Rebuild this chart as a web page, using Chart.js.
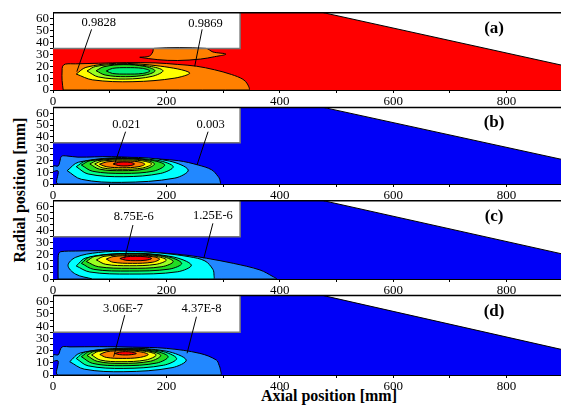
<!DOCTYPE html>
<html>
<head>
<meta charset="utf-8">
<script src="https://cdn.jsdelivr.net/npm/chart.js@4.4.1/dist/chart.umd.min.js"></script>
<style>
  body { margin: 0; background: #fff; }
  #wrap { position: relative; width: 561px; height: 405px; overflow: hidden; font-family: 'Liberation Serif', 'Times New Roman', serif; }
  #wrap canvas { position: absolute; left: 0; top: 0; }
  .axtitle { position: absolute; width: 200px; text-align: center; line-height: 20px; font-weight: bold; font-size: 16px; color: #000; }
</style>
</head>
<body>
<div id="wrap">
  <div class="axtitle" style="left:-80px; top:180px; transform: rotate(-90deg);">Radial position [mm]</div>
  <div class="axtitle" style="left:229px; top:386px;">Axial position [mm]</div>
</div>
<script>
// axes
const xTicks = [0, 100, 200, 300, 400, 500, 600, 700, 800];
const yTicks = [0, 5, 10, 15, 20, 25, 30, 35, 40, 45, 50, 55, 60];

// geometrie (mm)
const domain = [[0,0],[900,0],[900,20.6],[477,65],[330,65],[330,35],[0,35],[0,0]];
const rectEdge = [[0,35],[330,35],[330,65]];
const slopeEdge = [[477,65],[900,20.6]];
const topEdge = [[0,65],[900,65]];

// (a) contours
const aOrange = [[18,0],[16,8],[16,16],[17,20],[22,21.8],[40,22],[80,22.5],[130,23],[180,22.8],[220,21.5],[253,20],[285,17],[315,13],[335,9],[343,5],[345,0],[18,0]];
const aBlob = [[153,27.5],[170,28.5],[176,32],[178,35],[270,35],[282,32],[305,30.2],[285,28],[260,26],[220,24.8],[185,25.5],[153,27.5]];
const aYellow = [[41,13.4],[58,19],[112,22.4],[190,20],[241,14.5],[215,10],[141,7],[70,8.5],[41,13.4]];
const aLime = [[60,16],[75,19.8],[120,21.6],[170,20],[194,16.2],[175,11.5],[128,9.2],[80,11],[60,16]];
const aGreen = [[76,16.2],[90,19.6],[125,21.3],[162,19.8],[180,16.2],[165,12.8],[128,11.2],[92,12.6],[76,16.2]];
const aMint = [[94,16],[105,18.2],[130,18.8],[158,18.2],[171,16],[158,13.9],[130,13.4],[105,13.9],[94,16]];
const aLabels = ['0.9828', '0.9869'];
const aLabelAt = [[80.6,56.3],[269,55.5]];
const aPtr1 = [[68,51],[42,15.4]];
const aPtr2 = [[263,51],[250,20]];

// (b) contours
const bLightBlue = [[0,10.5],[9,11],[9,0],[294,0],[294,4],[291,6.5],[280,12],[256,16.1],[221,19.8],[162,21.8],[103,23.2],[44,22.8],[24,23.8],[15,23.5],[12,19],[9,15.3],[0,15.3],[0,10.5]];
const bCyan = [[25,11.3],[45,18.5],[132,22.6],[205,19.5],[238.5,11.9],[215,5],[121,1.4],[50,4],[25,11.3]];
const bMint = [[41,14.7],[58,19.5],[125,21.8],[185,20],[212,14.7],[190,9],[125,6.2],[62,8.5],[41,14.7]];
const bGreen = [[50,16.1],[66,19.8],[125,21.5],[175,20],[197,16.1],[178,11],[125,9],[70,10.8],[50,16.1]];
const bLime = [[65,17],[78,19.8],[123,21.2],[162,20.2],[179,17],[163,12.8],[123,11.3],[82,12.6],[65,17]];
const bYellow = [[73.6,17],[86,19.4],[123,20.4],[158,19.6],[174,17],[158,13.6],[123,12.5],[88,13.6],[73.6,17]];
const bOrange = [[82,16.8],[95,18.8],[123,19.5],[150,18.9],[162,16.8],[150,14.6],[123,13.8],[95,14.6],[82,16.8]];
const bRed = [[106,17],[115,18.3],[125,18.7],[137,18.3],[144,17],[137,15.7],[125,15.3],[115,15.7],[106,17]];
const bLabels = ['0.021', '0.003'];
const bLabelAt = [[129.5,50.7],[278,50.7]];
const bPtr1 = [[128,44.4],[109,17.5]];
const bPtr2 = [[273.5,44.4],[254,16.1]];

// (c) contours
const cLightBlue = [[9,0],[9,15],[10,21],[14,22.7],[40,23.2],[83,23.5],[140,22.8],[200,21.3],[240,19.5],[271,17.2],[318,13],[365,7.5],[388,2],[394,0],[9,0]];
const cCyan = [[70,0],[40,4],[26.5,11.3],[40,18],[80,22],[130,23],[190,21.5],[240,18.5],[268,15],[282,8],[284,3],[283,0],[70,0]];
const cMint = [[41,10.8],[58,17.5],[135,21.3],[210,18.5],[244,11.6],[220,6],[135,4.1],[65,5.8],[41,10.8]];
const cGreen = [[50,13],[66,18.5],[135,21],[200,18.8],[227,13],[205,8.2],[135,6.6],[72,8],[50,13]];
const cLime = [[59,14.5],[74,18.8],[135,20.8],[190,19],[212,14.5],[192,10.2],[135,8.9],[80,10.2],[59,14.5]];
const cYellow = [[76.5,15.8],[90,18.8],[135,20],[180,18.9],[200,15.8],[182,12.2],[135,11],[93,12.2],[76.5,15.8]];
const cOrange = [[94,16.5],[106,18.6],[140,19.4],[175,18.6],[188,16.5],[175,13.9],[140,13],[106,13.9],[94,16.5]];
const cRed = [[118,17],[128,18.4],[146,18.8],[164,18.4],[174,17],[164,15.6],[146,15.2],[128,15.6],[118,17]];
const cLabels = ['8.75E-6', '1.25E-6'];
const cLabelAt = [[142.4,51.7],[282,52.3]];
const cPtr1 = [[141,44.8],[126.5,17.2]];
const cPtr2 = [[282,46.2],[266,17.2]];

// (d) contours
const dLightBlue = [[0,11.2],[9,11.5],[9,0],[295,0],[295,5],[293,8],[288,12.3],[259,17.7],[200,21.8],[140,22.8],[82,23.2],[30,23],[18,23.3],[14,22],[11,18],[9,16.4],[0,16.4],[0,11.2]];
const dCyan = [[29.5,10.9],[48,18],[125,21.8],[200,19.5],[235,12.3],[210,6],[125,2.7],[55,4.8],[29.5,10.9]];
const dMint = [[41,13.5],[57,18.8],[125,21.5],[190,19.6],[218,13.5],[195,8],[125,5.4],[62,7.5],[41,13.5]];
const dGreen = [[50,15],[65,19.3],[122,21],[180,19.5],[203,15],[183,9.8],[122,7.6],[70,9.5],[50,15]];
const dLime = [[60,16],[73,19.3],[120,20.8],[170,19.5],[190,16],[172,11.3],[120,9.5],[78,11.2],[60,16]];
const dYellow = [[68,16.4],[80,19.3],[120,20.5],[162,19.4],[182,16.4],[164,12.3],[120,10.9],[84,12.2],[68,16.4]];
const dOrange = [[82.6,16.8],[94,19],[122,19.9],[152,19.1],[168,16.8],[152,14.3],[122,13.6],[94,14.4],[82.6,16.8]];
const dRed = [[109,17.6],[117,18.7],[128,19.1],[139,18.7],[147,17.6],[139,16.7],[128,16.4],[117,16.7],[109,17.6]];
const dLabels = ['3.06E-7', '4.37E-8'];
const dLabelAt = [[123.5,54.6],[262,54.6]];
const dPtr1 = [[126.5,49],[107,15]];
const dPtr2 = [[253,47.7],[236.5,17.8]];

const panelLetters = ['(a)', '(b)', '(c)', '(d)'];
const letterAt = [778, 52];

// couleurs
const C = {
  red: '#ff0000', orange: '#ff8000', yellow: '#ffff00', lime: '#99ff22',
  green: '#22dd22', mint: '#00ee77', spring: '#00ff88', cyan: '#00ffff',
  lightBlue: '#2288ff', blue: '#0000f8'
};

const FONT = "'Liberation Serif', 'Times New Roman', serif";

const panels = [
  { top: 12.7, bottom: 90, base: C.red,
    layers: [[aOrange, C.orange], [aBlob, C.orange], [aYellow, C.yellow], [aLime, C.lime], [aGreen, C.green], [aMint, C.mint]],
    labels: aLabels, labelAt: aLabelAt, ptrs: [aPtr1, aPtr2] },
  { top: 107.4, bottom: 184, base: C.blue,
    layers: [[bLightBlue, C.lightBlue], [bCyan, C.cyan], [bMint, C.spring], [bGreen, C.green], [bLime, C.lime], [bYellow, C.yellow], [bOrange, C.orange], [bRed, C.red]],
    labels: bLabels, labelAt: bLabelAt, ptrs: [bPtr1, bPtr2] },
  { top: 200.7, bottom: 279, base: C.blue,
    layers: [[cLightBlue, C.lightBlue], [cCyan, C.cyan], [cMint, C.spring], [cGreen, C.green], [cLime, C.lime], [cYellow, C.yellow], [cOrange, C.orange], [cRed, C.red]],
    labels: cLabels, labelAt: cLabelAt, ptrs: [cPtr1, cPtr2] },
  { top: 295.6, bottom: 375, base: C.blue,
    layers: [[dLightBlue, C.lightBlue], [dCyan, C.cyan], [dMint, C.spring], [dGreen, C.green], [dLime, C.lime], [dYellow, C.yellow], [dOrange, C.orange], [dRed, C.red]],
    labels: dLabels, labelAt: dLabelAt, ptrs: [dPtr1, dPtr2] }
];

const toXY = pts => pts.map(p => ({ x: p[0], y: p[1] }));

// textes des contours + lettre du panneau
const panelText = {
  id: 'panelText',
  afterDatasetsDraw(chart, args, opts) {
    const { ctx, scales: { x, y } } = chart;
    ctx.save();
    ctx.fillStyle = '#000';
    ctx.textAlign = 'center';
    ctx.textBaseline = 'middle';
    ctx.font = '12.5px ' + FONT;
    opts.labels.forEach((t, i) => {
      ctx.fillText(t, x.getPixelForValue(opts.labelAt[i][0]), y.getPixelForValue(opts.labelAt[i][1]));
    });
    ctx.font = 'bold 17px ' + FONT;
    ctx.fillText(opts.letter, x.getPixelForValue(letterAt[0]), y.getPixelForValue(letterAt[1]));
    ctx.restore();
  }
};

const wrap = document.getElementById('wrap');

panels.forEach((p, idx) => {
  const canvas = document.createElement('canvas');
  canvas.width = 561;
  canvas.height = 405;
  wrap.appendChild(canvas);

  // ordre de peinture : fond d'abord
  const painted = [];
  painted.push({ data: toXY(domain), fill: 'shape', backgroundColor: p.base, borderWidth: 0, tension: 0 });
  p.layers.forEach(([pts, col]) => {
    painted.push({ data: toXY(pts), fill: 'shape', backgroundColor: col, borderColor: '#000', borderWidth: 1, tension: 0.35 });
  });
  painted.push({ data: toXY(rectEdge), fill: false, borderColor: '#777', borderWidth: 1.5, tension: 0 });
  painted.push({ data: toXY(slopeEdge), fill: false, borderColor: '#000', borderWidth: 1, tension: 0 });
  painted.push({ data: toXY(topEdge), fill: false, borderColor: '#000', borderWidth: 1.5, tension: 0, clip: 2 });
  p.ptrs.forEach(pts => {
    painted.push({ data: toXY(pts), fill: false, borderColor: '#000', borderWidth: 1, tension: 0 });
  });

  const n = painted.length;
  const datasets = painted.map((d, i) => Object.assign({
    showLine: true, pointRadius: 0, pointHitRadius: 0, order: n - i
  }, d));

  new Chart(canvas, {
    type: 'scatter',
    data: { datasets },
    options: {
      responsive: false,
      animation: false,
      devicePixelRatio: 1,
      events: [],
      layout: { padding: { top: p.top, bottom: 405 - p.bottom - 16, left: 0, right: 0 } },
      plugins: {
        legend: { display: false },
        tooltip: { enabled: false },
        panelText: { labels: p.labels, labelAt: p.labelAt, letter: panelLetters[idx] }
      },
      scales: {
        x: {
          type: 'linear', min: 0, max: 896,
          afterBuildTicks: s => { s.ticks = xTicks.map(v => ({ value: v })); },
          afterFit: s => { s.height = 16; },
          ticks: {
            autoSkip: false, maxRotation: 0, padding: 1, color: '#000',
            font: { family: FONT, size: 13 },
            callback: v => (v % 200 === 0 ? v : '')
          },
          grid: { drawOnChartArea: false, color: '#000', tickLength: 3 },
          border: { color: '#000', width: 1 }
        },
        y: {
          type: 'linear', min: 0, max: 65,
          afterBuildTicks: s => { s.ticks = yTicks.map(v => ({ value: v })); },
          afterFit: s => { s.width = 53; },
          ticks: {
            autoSkip: false, padding: 1, color: '#000',
            font: { family: FONT, size: 13 },
            callback: v => (v % 10 === 0 ? v : '')
          },
          grid: { drawOnChartArea: false, color: '#000', tickLength: 3 },
          border: { color: '#000', width: 1 }
        }
      }
    },
    plugins: [panelText]
  });
});
</script>
</body>
</html>
